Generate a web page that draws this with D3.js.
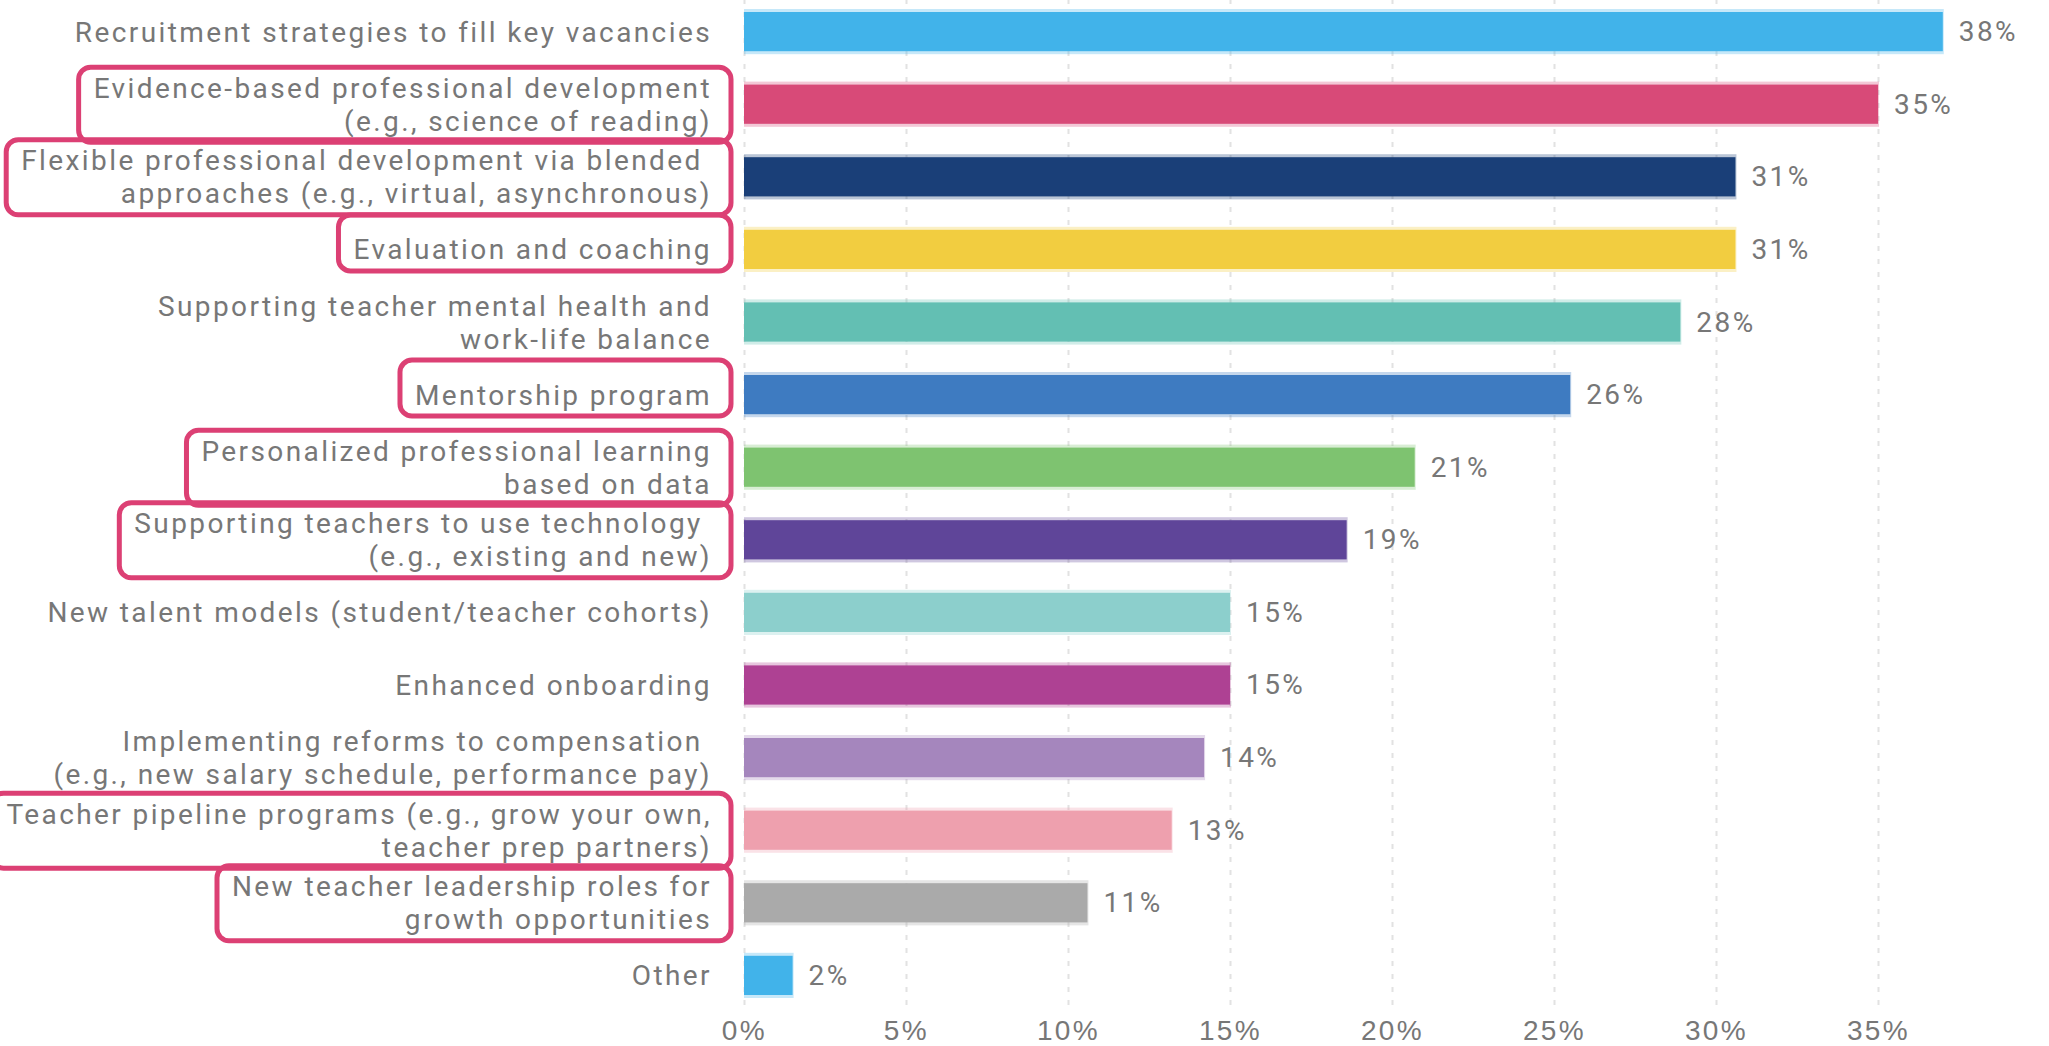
<!DOCTYPE html>
<html lang="en">
<head>
<meta charset="UTF-8">
<title>Talent strategies</title>
<script src="https://d3js.org/d3.v7.min.js"></script>
<style>
    body { margin: 0; background: #fff; }
    svg { display: block; font-family: Roboto, sans-serif; }
    .label, .value, .tick text { fill: #777; font-size: 28px; letter-spacing: 2.4px; white-space: pre; }
    .tick line { stroke: #e2e2e2; stroke-width: 2; stroke-dasharray: 5 8; }
</style>
</head>
<body>
<svg id="chart"></svg>
<script>
    const width = 2049;
    const height = 1046;

    const categories = [
        ["Recruitment strategies to fill key vacancies"],
        ["Evidence-based professional development", "(e.g., science of reading)"],
        ["Flexible professional development via blended ", "approaches (e.g., virtual, asynchronous)"],
        ["Evaluation and coaching"],
        ["Supporting teacher mental health and", "work-life balance"],
        ["Mentorship program"],
        ["Personalized professional learning", "based on data"],
        ["Supporting teachers to use technology ", "(e.g., existing and new)"],
        ["New talent models (student/teacher cohorts)"],
        ["Enhanced onboarding"],
        ["Implementing reforms to compensation ", "(e.g., new salary schedule, performance pay)"],
        ["Teacher pipeline programs (e.g., grow your own,", "teacher prep partners)"],
        ["New teacher leadership roles for", "growth opportunities"],
        ["Other"]
    ];
    const values = [37.0, 35.0, 30.6, 30.6, 28.9, 25.5, 20.7, 18.6, 15.0, 15.0, 14.2, 13.2, 10.6, 1.5];
    const valueLabels = ["38%", "35%", "31%", "31%", "28%", "26%", "21%", "19%", "15%", "15%", "14%", "13%", "11%", "2%"];
    const colors = ["#41b3ea", "#d84a78", "#1a3f78", "#f2cd40", "#63bfb3", "#3e7bc1", "#7ec370",
                    "#5f4599", "#8ccfcc", "#ae4193", "#a586bd", "#eea0ae", "#aaaaaa", "#41b3ea"];
    const highlighted = [false, true, true, true, false, true, true, true, false, false, false, true, true, false];
    const ticks = [0, 5, 10, 15, 20, 25, 30, 35];

    const svg = d3.select("#chart").attr("width", width).attr("height", height);

    const x = d3.scaleLinear().domain([0, 40]).range([744, 2040]);
    const y = d3.scaleBand().domain(d3.range(categories.length)).range([12, 995]).paddingInner(0.46);

    // gridlines + tick labels
    const axis = svg.append("g")
        .attr("transform", "translate(0,1005)")
        .call(d3.axisBottom(x).tickValues(ticks).tickFormat(d => d + "%").tickSize(-1005).tickPadding(15));
    axis.select(".domain").remove();
    axis.selectAll(".tick text").attr("font-size", null).attr("font-family", null);

    // bars with a faint halo like the source
    const rows = svg.append("g").selectAll("g")
        .data(values)
        .join("g");

    rows.append("rect")
        .attr("x", x(0))
        .attr("y", (d, i) => y(i) - 3)
        .attr("width", d => x(d) - x(0) + 1)
        .attr("height", y.bandwidth() + 6)
        .attr("fill", (d, i) => colors[i])
        .attr("opacity", 0.3);

    rows.append("rect")
        .attr("x", x(0))
        .attr("y", (d, i) => y(i))
        .attr("width", d => x(d) - x(0))
        .attr("height", y.bandwidth())
        .attr("fill", (d, i) => colors[i]);

    rows.append("text")
        .attr("class", "value")
        .attr("x", d => x(d) + 16)
        .attr("y", (d, i) => y(i) + y.bandwidth() / 2)
        .attr("dominant-baseline", "central")
        .text((d, i) => valueLabels[i]);

    // category labels
    const lineH = 33;
    const labels = svg.append("g").selectAll("text")
        .data(categories)
        .join("text")
        .attr("class", "label")
        .attr("text-anchor", "end")
        .attr("dominant-baseline", "central");

    labels.selectAll("tspan")
        .data((d, i) => d.map((t, j) => ({t, j, n: d.length, i})))
        .join("tspan")
        .attr("x", 712)
        .attr("y", d => y(d.i) + y.bandwidth() / 2 + (d.j - (d.n - 1) / 2) * lineH)
        .text(d => d.t);

    // pink highlight boxes around selected labels
    const boxes = svg.append("g");
    labels.each(function (d, i) {
        if (!highlighted[i]) return;
        const b = this.getBBox();
        const padTop = d.length === 1 ? 18 : 4;
        boxes.append("rect")
            .attr("x", b.x - 15)
            .attr("y", b.y - padTop)
            .attr("width", 712 + 19 - (b.x - 15))
            .attr("height", b.height + padTop + 5)
            .attr("rx", 12)
            .attr("fill", "none")
            .attr("stroke", "#dc4074")
            .attr("stroke-width", 5);
    });
</script>
</body>
</html>
